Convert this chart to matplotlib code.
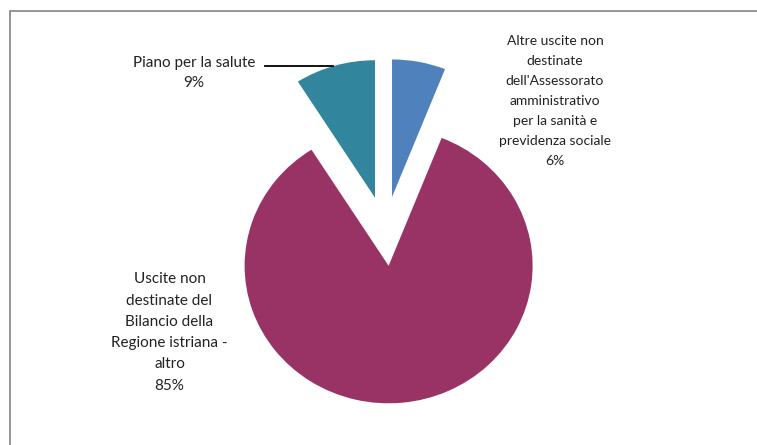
import matplotlib
matplotlib.use('Agg')
import matplotlib.pyplot as plt
from matplotlib.patches import Rectangle

# spending shares (percent)
categories = ["Altre uscite non\ndestinate\ndell'Assessorato\namministrativo\nper la sanità e\nprevidenza sociale",
              "Uscite non\ndestinate del\nBilancio della\nRegione istriana -\naltro",
              "Piano per la salute"]
values = [6, 85, 9]
colors = ['#4F81BD', '#993366', '#31859C']

plt.rcParams['font.family'] = ['Lato', 'DejaVu Sans']

fig = plt.figure(figsize=(7.57, 4.45), dpi=100)
ax = fig.add_axes([0, 0, 1, 1])

wedges, _ = ax.pie(values, colors=colors, startangle=90, counterclock=False,
                   explode=[0.253] * len(values), radius=1.0,
                   wedgeprops=dict(linewidth=0))

# stretch a bit horizontally, like the original sheet chart
ax.set_aspect('auto')
ax.set_xlim(-2.675, 2.582)
ax.set_ylim(-1.555, 1.681)
ax.axis('off')

# label positions (data coords) and sizes
label_pos = [(1.179, 0.947), (-1.498, -0.737), (-1.328, 1.151)]
label_size = [10, 11, 11]
label_spacing = [1.81, 1.66, 1.6]
for name, v, (x, y), fs, ls in zip(categories, values, label_pos, label_size, label_spacing):
    ax.text(x, y, name + '\n' + str(v) + '%', ha='center', va='center',
            fontsize=fs, color='#222222', linespacing=ls)

# leader line for the small teal slice
ax.plot([-0.835, -0.36], [1.201, 1.201], color='black', lw=1.3)

# chart area frame (runs off the right and bottom edge)
fig.patches.append(Rectangle((9.5 / 757, -0.1), 2, (445 - 11) / 445 + 0.1,
                             transform=fig.transFigure, fill=False,
                             edgecolor='#8c8c8c', lw=1.3))

fig.savefig('out.png', dpi=100)
